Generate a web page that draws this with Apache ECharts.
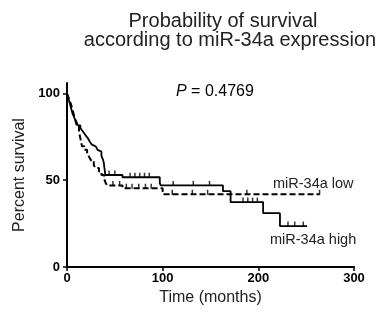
<!DOCTYPE html>
<html>
<head>
<meta charset="utf-8">
<script src="https://cdn.jsdelivr.net/npm/echarts@6/dist/echarts.min.js"></script>
<style>
html,body{margin:0;padding:0;background:#fff;}
#chart{width:388px;height:320px;}
</style>
</head>
<body>
<div id="chart"></div>
<script>
// ---- data ----
const titleLines = ['Probability of survival', 'according to miR-34a expression'];
const pText = '0.4769';
const xTicks = [0, 100, 200, 300];
const yTicks = [0, 50, 100];
const xName = 'Time (months)';
const yName = 'Percent survival';
const seriesNames = ['miR-34a high', 'miR-34a low'];

// miR-34a high (solid): time (months), percent survival
const highTimes = [0, 1, 2, 3, 4, 5, 6, 8, 10, 11.5, 14, 16, 18, 20, 22, 24, 26, 28, 30, 32, 34, 36, 37.5, 38.5, 39, 39.5, 40, 58, 97, 98, 163, 171, 205, 222.6, 251];
const highSurv  = [100, 98, 96, 94, 92, 90, 88, 85.6, 83.5, 81.6, 80, 78.5, 77, 75.5, 74, 72, 70.5, 69.5, 68.5, 67.5, 66.5, 64, 62, 60, 57.5, 55.7, 53, 51.7, 48.3, 47, 43.7, 37.4, 31, 23.6, 23.6];
const highCensor = [44, 50, 66, 71, 76, 81, 86, 111, 132, 149, 184, 189, 194, 199, 231, 238, 247];

// miR-34a low (dashed)
const lowTimes = [0, 2, 4, 6, 8, 10, 12.5, 14, 15.7, 18, 21, 23, 25, 28, 30, 33.4, 36, 38.7, 40, 41.8, 58, 100, 264];
const lowSurv  = [100, 97, 94, 90, 86, 82, 78, 74, 69.5, 67.5, 65.5, 63.5, 61.5, 58.6, 57, 55, 53, 51, 49, 47, 45.4, 41.9, 41.9];
const lowCensor = [48, 55, 62, 68, 75, 82, 88, 110, 131, 147, 188, 264];

// ---- build ----
function pairs(t, s) { return t.map((v, i) => [v, s[i]]); }
function survAt(t, s, x) {
  let v = s[0];
  for (let i = 0; i < t.length; i++) { if (t[i] <= x) v = s[i]; }
  return v;
}
function censorPts(ct, t, s) { return ct.map(x => [x, survAt(t, s, x)]); }

const FONT = '"Liberation Sans", Arial, sans-serif';
const chart = echarts.init(document.getElementById('chart'), null, {renderer: 'canvas'});
const tickMark = {symbol: 'rect', symbolSize: [1.5, 5], symbolOffset: [0, -2]};

chart.setOption({
  animation: false,
  backgroundColor: '#fff',
  grid: {left: 67, right: 34, top: 83, bottom: 53, containLabel: false},
  xAxis: {
    type: 'value', min: 0, max: 300, interval: 100,
    name: xName, nameLocation: 'middle', nameGap: 23,
    nameTextStyle: {fontFamily: FONT, fontSize: 16, color: '#222'},
    axisLine: {show: true, onZero: false, lineStyle: {color: '#000', width: 2}},
    axisTick: {show: true, length: 4, lineStyle: {color: '#000', width: 1.5}, customValues: xTicks},
    axisLabel: {fontFamily: FONT, fontSize: 13, fontWeight: 'bold', color: '#000', margin: 5, customValues: xTicks},
    splitLine: {show: false}
  },
  yAxis: {
    type: 'value', min: 0, max: 106,
    name: yName, nameLocation: 'middle', nameGap: 38, nameRotate: 90,
    nameTextStyle: {fontFamily: FONT, fontSize: 16, color: '#222'},
    axisLine: {show: true, onZero: false, lineStyle: {color: '#000', width: 2}},
    axisTick: {show: true, length: 4, lineStyle: {color: '#000', width: 1.5}, customValues: yTicks},
    axisLabel: {fontFamily: FONT, fontSize: 13, fontWeight: 'bold', color: '#000', margin: 7, customValues: yTicks},
    splitLine: {show: false}
  },
  series: [
    {name: seriesNames[0], type: 'line', step: 'end', data: pairs(highTimes, highSurv),
     showSymbol: false, lineStyle: {color: '#000', width: 1.8}, z: 3},
    {name: seriesNames[1], type: 'line', step: 'end', data: pairs(lowTimes, lowSurv),
     showSymbol: false, lineStyle: {color: '#000', width: 2, type: [6, 3]}, z: 3},
    Object.assign({type: 'scatter', data: censorPts(highCensor, highTimes, highSurv),
     itemStyle: {color: '#000'}, z: 4}, tickMark),
    Object.assign({type: 'scatter', data: censorPts(lowCensor, lowTimes, lowSurv),
     itemStyle: {color: '#000'}, z: 4}, tickMark)
  ],
  graphic: [
    {type: 'text', x: 223, y: 21, style: {text: titleLines[0], font: '20px ' + FONT, fill: '#222', textAlign: 'center', textVerticalAlign: 'middle'}},
    {type: 'text', x: 230, y: 40, style: {text: titleLines[1], font: '20px ' + FONT, fill: '#222', textAlign: 'center', textVerticalAlign: 'middle'}},
    {type: 'text', x: 176, y: 92, style: {
      text: '{i|P} = ' + pText, textVerticalAlign: 'middle',
      rich: {i: {fontFamily: FONT, fontSize: 16, fontStyle: 'italic', fill: '#000', color: '#000'}},
      font: '16px ' + FONT, fill: '#000'}},
    {type: 'text', x: 273, y: 184, style: {text: seriesNames[1], font: '14.5px ' + FONT, fill: '#222', textVerticalAlign: 'middle'}},
    {type: 'text', x: 270, y: 240, style: {text: seriesNames[0], font: '14.5px ' + FONT, fill: '#222', textVerticalAlign: 'middle'}}
  ]
});
</script>
</body>
</html>
